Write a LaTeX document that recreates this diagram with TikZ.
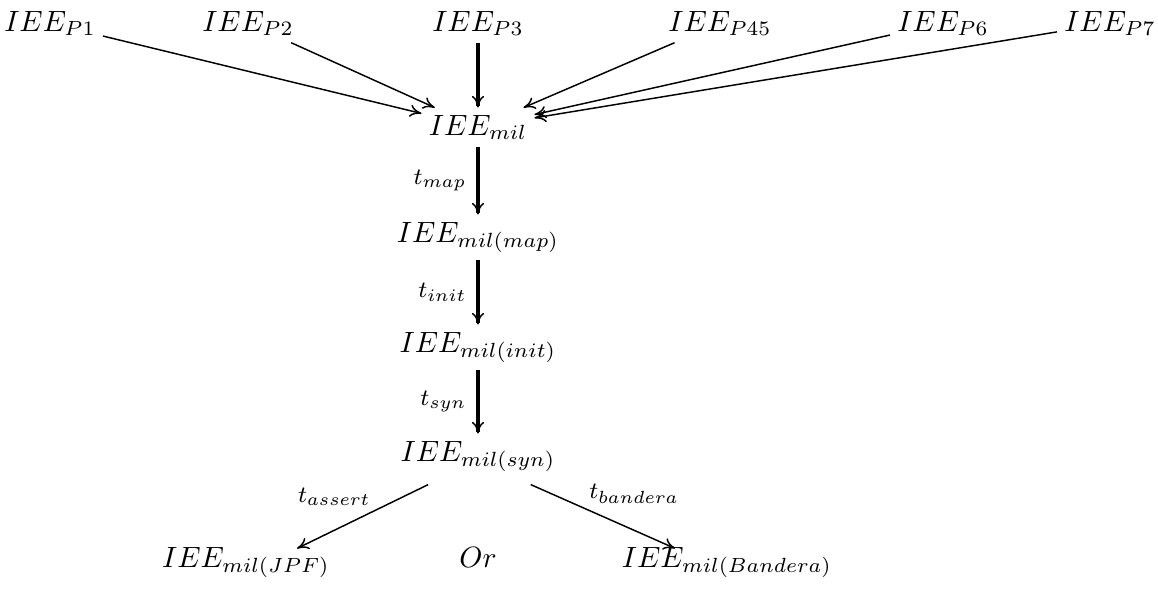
\documentclass[tikz,border=0pt]{standalone}
\usetikzlibrary{arrows.meta}
\begin{document}
\begin{tikzpicture}[x=0.341pt,y=-0.341pt,
  obj/.style={inner sep=2.5pt, outer sep=0pt, anchor=base},
  tip/.style={-{Computer Modern Rightarrow[length=4pt,width=4.2pt,line width=0.5pt]}},
  arr/.style={tip, line width=0.5pt},
  varr/.style={tip, line width=1.1pt},
  lbl/.style={font=\footnotesize, inner sep=3.4pt},
  blbl/.style={font=\footnotesize, inner sep=1.5pt}]
\useasboundingbox (0,0) rectangle (1158,591);
% top row
\node[obj] (p1)  at (50,31)   {$IEE_{P1}$};
\node[obj] (p2)  at (248,31)  {$IEE_{P2}$};
\node[obj] (p3)  at (478,31)  {$IEE_{P3}$};
\node[obj] (p45) at (720,31)  {$IEE_{P45}$};
\node[obj] (p6)  at (943,31)  {$IEE_{P6}$};
\node[obj] (p7)  at (1110,31) {$IEE_{P7}$};
% main column
\node[obj] (mil)  at (478,135) {$IEE_{mil}$};
\node[obj] (map)  at (478,242) {$IEE_{mil(map)}$};
\node[obj] (init) at (478,352) {$IEE_{mil(init)}$};
\node[obj] (syn)  at (478,461) {$IEE_{mil(syn)}$};
% bottom row
\node[obj,inner sep=1pt] (jpf) at (246,567) {$IEE_{mil(JPF)}$};
\node[obj] (or)  at (478,567) {$Or$};
\node[obj,inner sep=1pt] (ban) at (727,567) {$IEE_{mil(Bandera)}$};
% inputs
\draw[arr]  (p1)  -- (mil);
\draw[arr]  (p2)  -- (mil);
\draw[varr] (p3)  -- (mil);
\draw[arr]  (p45) -- (mil);
\draw[arr]  (p6)  -- (mil);
\draw[arr]  (p7)  -- (mil);
% chain
\draw[varr] (mil)  -- node[lbl,left] {$t_{map}$}  (map);
\draw[varr] (map)  -- node[lbl,left] {$t_{init}$} (init);
\draw[varr] (init) -- node[lbl,left] {$t_{syn}$}  (syn);
% branches
\draw[arr] ([xshift=-17pt,yshift=-2pt]syn.south) -- node[blbl,above left,pos=0.40] {$t_{assert}$} ([xshift=17.4pt,yshift=-1.5pt]jpf.north);
\draw[arr] ([xshift=18pt,yshift=-2pt]syn.south) -- node[blbl,above right,pos=0.37] {$t_{bandera}$} ([xshift=-17.7pt,yshift=-1.5pt]ban.north);
\end{tikzpicture}
\end{document}
